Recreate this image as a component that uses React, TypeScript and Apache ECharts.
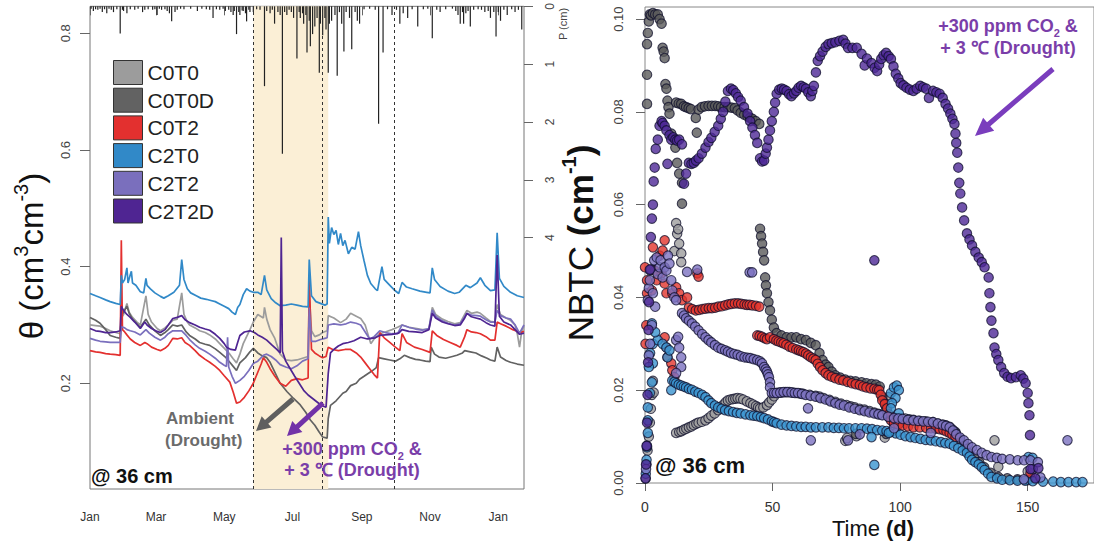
import React, { useEffect, useRef } from "react";
import * as echarts from "echarts";

// ---------- Soil moisture at 36 cm (left panel) ----------
// day of year (0 = Jan 1), volumetric water content θ
const thetaC0T0: number[][] = [[0,.300],[5,.299],[9,.298],[14,.294],[18,.290],[23,.287],[27,.285],[28,.312],[30,.318],[33,.337],[35,.322],[38,.313],[42,.305],[45,.300],[50,.350],[52,.318],[55,.305],[60,.294],[63,.290],[67,.295],[70,.300],[74,.308],[78,.310],[82,.355],[84,.318],[87,.305],[89,.300],[94,.295],[98,.290],[103,.287],[107,.283],[112,.276],[116,.268],[121,.258],[125,.250],[128,.242],[131,.235],[134,.250],[137,.268],[140,.280],[143,.292],[146,.305],[150,.318],[155,.312],[156,.330],[158,.310],[161,.292],[165,.278],[170,.250],[175,.240],[180,.239],[185,.240],[190,.243],[195,.246],[196,.354],[198,.290],[201,.280],[205,.283],[208,.287],[212,.290],[213,.316],[218,.312],[224,.304],[229,.310],[233,.320],[238,.315],[242,.311],[246,.300],[251,.268],[254,.276],[259,.285],[264,.288],[270,.292],[275,.296],[279,.300],[285,.296],[291,.294],[297,.292],[303,.293],[306,.330],[309,.318],[315,.310],[320,.306],[326,.302],[331,.304],[335,.318],[337,.325],[341,.320],[346,.322],[349,.320],[354,.312],[358,.306],[362,.305],[364,.335],[367,.318],[372,.312],[376,.308],[380,.300],[382,.285],[384,.262],[386,.290],[388,.298]];
const thetaC0T0D: number[][] = [[0,.313],[5,.308],[9,.303],[14,.292],[18,.282],[23,.279],[27,.277],[28,.316],[30,.322],[33,.332],[35,.320],[38,.310],[42,.302],[45,.296],[50,.310],[53,.300],[58,.290],[63,.282],[67,.287],[70,.292],[74,.300],[78,.298],[82,.300],[86,.288],[89,.282],[94,.276],[98,.270],[103,.267],[107,.265],[112,.259],[116,.253],[121,.245],[125,.236],[128,.229],[131,.222],[134,.235],[139,.244],[143,.254],[146,.260],[150,.252],[154,.247],[158,.244],[161,.236],[165,.220],[170,.200],[176,.186],[182,.174],[188,.163],[193,.150],[197,.137],[201,.128],[205,.116],[208,.108],[212,.106],[213,.140],[215,.162],[220,.170],[226,.183],[229,.186],[233,.196],[238,.200],[241,.207],[245,.212],[248,.216],[252,.221],[256,.227],[258,.244],[263,.242],[268,.240],[273,.238],[277,.242],[281,.248],[286,.244],[291,.241],[295,.240],[300,.238],[304,.237],[305,.262],[308,.250],[312,.245],[318,.243],[324,.246],[328,.248],[333,.252],[335,.256],[340,.254],[345,.252],[350,.247],[355,.243],[358,.240],[362,.238],[364,.262],[367,.245],[372,.239],[376,.236],[382,.233],[388,.231]];
const thetaC0T2: number[][] = [[0,.256],[5,.254],[9,.253],[14,.251],[18,.250],[23,.249],[27,.248],[28,.445],[29,.292],[31,.288],[33,.283],[36,.276],[40,.270],[45,.265],[49,.270],[51,.268],[55,.262],[60,.258],[63,.256],[67,.260],[70,.265],[74,.277],[78,.276],[82,.278],[85,.270],[89,.265],[94,.256],[98,.248],[103,.241],[107,.236],[112,.229],[116,.222],[120,.213],[125,.202],[128,.185],[131,.166],[134,.168],[138,.176],[142,.187],[146,.200],[150,.219],[153,.233],[155,.244],[158,.236],[161,.225],[165,.213],[170,.200],[175,.195],[180,.205],[185,.208],[190,.206],[195,.209],[196,.380],[198,.258],[201,.252],[205,.247],[208,.244],[211,.246],[213,.262],[217,.258],[222,.256],[228,.258],[233,.258],[238,.252],[242,.245],[246,.235],[250,.225],[254,.215],[257,.209],[259,.287],[263,.278],[268,.270],[273,.262],[277,.256],[279,.285],[283,.270],[290,.262],[297,.258],[304,.253],[306,.290],[310,.282],[316,.275],[322,.270],[328,.265],[331,.262],[335,.280],[337,.292],[341,.288],[345,.287],[349,.285],[354,.280],[358,.274],[362,.274],[364,.305],[367,.302],[372,.298],[378,.292],[385,.287],[388,.289]];
const thetaC2T0: number[][] = [[0,.354],[5,.350],[9,.347],[14,.343],[18,.340],[23,.337],[27,.335],[28,.385],[29,.372],[31,.378],[33,.398],[34,.372],[36,.386],[37,.392],[38,.372],[41,.368],[45,.357],[48,.355],[50,.380],[51,.368],[54,.362],[58,.355],[63,.349],[66,.346],[70,.350],[75,.356],[80,.368],[82,.412],[84,.378],[87,.362],[90,.355],[95,.350],[99,.346],[104,.344],[108,.342],[112,.340],[116,.336],[120,.332],[124,.328],[127,.322],[130,.318],[132,.330],[134,.335],[137,.352],[140,.362],[143,.358],[146,.356],[150,.356],[153,.352],[156,.385],[158,.360],[162,.345],[166,.338],[170,.333],[175,.334],[180,.336],[185,.334],[190,.332],[195,.331],[196,.412],[198,.350],[202,.340],[206,.337],[210,.334],[212,.336],[213,.485],[214,.440],[216,.467],[218,.455],[220,.462],[222,.438],[224,.457],[226,.436],[228,.445],[231,.422],[234,.433],[237,.430],[240,.460],[242,.436],[245,.410],[248,.385],[251,.371],[255,.362],[257,.359],[261,.400],[263,.378],[267,.370],[272,.360],[276,.354],[279,.373],[283,.365],[288,.362],[295,.358],[301,.356],[304,.355],[306,.398],[308,.378],[313,.366],[320,.358],[326,.354],[330,.356],[336,.368],[340,.364],[346,.372],[349,.381],[353,.368],[358,.359],[362,.360],[364,.458],[366,.380],[370,.366],[376,.356],[382,.350],[388,.347]];
const thetaC2T2: number[][] = [[0,.277],[5,.274],[9,.272],[14,.271],[18,.270],[23,.270],[27,.270],[28,.297],[31,.295],[33,.292],[36,.290],[40,.288],[45,.283],[50,.292],[53,.286],[58,.279],[63,.274],[67,.279],[70,.285],[74,.290],[78,.290],[82,.290],[86,.282],[89,.275],[94,.266],[98,.260],[103,.255],[107,.250],[112,.243],[116,.236],[120,.231],[122,.229],[123,.279],[124,.228],[127,.212],[130,.200],[134,.205],[138,.212],[142,.222],[146,.234],[150,.238],[155,.248],[158,.250],[162,.246],[166,.240],[170,.232],[175,.228],[180,.225],[185,.230],[190,.238],[195,.242],[196,.330],[198,.272],[202,.272],[206,.275],[210,.277],[212,.278],[213,.300],[218,.302],[224,.300],[229,.302],[233,.305],[238,.303],[242,.300],[246,.288],[250,.276],[254,.280],[259,.290],[264,.287],[270,.285],[275,.285],[279,.300],[285,.296],[291,.293],[297,.291],[303,.294],[306,.326],[309,.315],[315,.307],[320,.303],[326,.300],[331,.302],[335,.314],[337,.320],[341,.317],[346,.316],[349,.315],[354,.309],[358,.305],[362,.305],[364,.325],[367,.316],[372,.312],[376,.310],[380,.300],[384,.286],[388,.300]];
const thetaC2T2D: number[][] = [[0,.294],[5,.290],[9,.289],[14,.287],[18,.287],[23,.288],[27,.290],[28,.332],[30,.325],[33,.318],[36,.313],[40,.305],[45,.294],[49,.305],[51,.300],[55,.294],[60,.289],[63,.287],[67,.292],[70,.300],[74,.311],[78,.313],[82,.316],[85,.309],[89,.304],[94,.300],[98,.296],[103,.293],[107,.291],[112,.284],[116,.277],[120,.268],[122,.262],[126,.258],[130,.257],[132,.270],[134,.282],[138,.288],[143,.290],[147,.287],[150,.283],[154,.279],[158,.274],[163,.265],[167,.258],[170,.252],[171,.450],[172,.255],[175,.238],[179,.225],[183,.212],[187,.200],[191,.188],[195,.180],[199,.174],[203,.168],[207,.162],[211,.159],[213,.217],[215,.252],[218,.258],[222,.264],[226,.268],[231,.270],[236,.273],[242,.279],[248,.276],[255,.278],[259,.282],[264,.283],[270,.284],[276,.286],[279,.292],[285,.289],[291,.288],[297,.287],[303,.292],[306,.320],[309,.312],[315,.305],[320,.302],[326,.299],[331,.300],[335,.312],[337,.320],[341,.314],[345,.312],[349,.310],[354,.304],[358,.300],[362,.298],[364,.420],[366,.315],[370,.305],[376,.300],[380,.292],[384,.284],[388,.286]];

// Daily precipitation, [day, cm]
const precip: number[][] = [[1,.04],[3,.08],[5,.05],[7,.06],[9,.04],[11,.1],[13,.05],[15,.12],[17,.04],[19,.06],[21,.1],[24,.05],[27,.47],[29,.06],[30,.08],[33,.12],[36,.05],[40,.06],[43,.04],[47,.1],[49,.06],[52,.05],[56,.06],[58,.05],[60,.15],[62,.04],[64,.06],[67,.05],[69,.08],[71,.12],[73,.26],[76,.1],[78,.06],[81,.04],[84,.05],[90,.04],[96,.08],[100,.04],[104,.05],[107,.06],[110,.2],[113,.05],[116,.06],[119,.04],[121,.08],[124,.06],[126,.1],[128,.15],[129,.08],[131,.48],[133,.1],[134,.15],[136,.07],[137,.08],[139,.12],[140,.26],[142,.06],[143,.1],[146,.1],[149,.05],[152,.06],[156,1.38],[158,.08],[161,.12],[163,.06],[165,.3],[168,.1],[170,.15],[172,2.55],[174,.1],[176,.15],[178,.06],[180,.1],[182,.2],[185,.9],[187,.1],[188,.2],[190,.12],[191,.3],[193,.15],[194,.8],[196,.25],[197,.69],[199,.48],[201,.35],[203,.2],[205,1.15],[206,.3],[208,.5],[210,.2],[211,.4],[213,1.15],[214,.3],[216,.25],[219,.15],[221,1.2],[223,.1],[225,.3],[227,.78],[229,.1],[232,.2],[234,.74],[237,.1],[239,.25],[241,.3],[245,.05],[250,.04],[255,.06],[258,2.03],[262,.8],[266,.05],[270,.15],[274,.06],[277,.3],[280,.12],[284,.2],[288,.05],[293,.35],[298,.05],[302,.04],[306,.55],[310,.06],[313,.1],[318,.05],[324,.04],[327,.08],[329,.15],[331,.3],[333,.1],[334,.3],[336,.12],[338,.08],[340,.35],[343,.06],[347,.05],[350,.06],[353,.1],[356,.08],[358,.2],[361,.1],[363,.52],[365,.1],[367,.25],[370,.06],[373,.15],[377,.05],[380,.1],[383,.06],[386,.4]];

// Drought window and reference dates (day of year)
const droughtWindow = [146, 213];
const eventDays = [146, 208, 272];

// Month tick positions and labels
const monthDays = [0, 59, 120, 181, 243, 304, 365];
const monthLabels = ["Jan", "Mar", "May", "Jul", "Sep", "Nov", "Jan"];
const thetaTicks = [0.2, 0.4, 0.6, 0.8];
const precipTicks = [0, 1, 2, 3, 4];

// ---------- NBTC time course (right panel), [time (d), NBTC (cm-1)] ----------
const nbtcC0T0: number[][] = [[0.3,.001],[0.6,.004],[1.0,.007],[1.5,.010],[1.9,.013],[2.3,.016],[2.7,.019],[3.1,.022],[3.4,.0195],[2.0,.0458],[3.0,.046],[11.5,.05],[12.2,.056],[12.6,.0537],[13.0,.0547],[13.4,.0516],[14.2,.0495],[14.2,.0476],[12.2,.0108],[13.4,.011],[14.3,.0112],[15.3,.0115],[16.2,.0117],[17.2,.012],[18.2,.0122],[19.1,.0125],[20.1,.0128],[21.0,.013],[22.3,.0132],[23.7,.0135],[24.9,.014],[26.0,.0145],[27.3,.015],[28.7,.0157],[29.6,.0162],[30.6,.0168],[31.6,.0174],[32.5,.0178],[33.5,.018],[34.5,.0181],[35.4,.0182],[36.3,.0183],[37.4,.0182],[38.5,.018],[39.9,.0176],[41.3,.0172],[42.4,.0169],[43.5,.0166],[44.3,.0163],[45.1,.0161],[46.4,.0163],[47.8,.0168],[48.7,.0174],[49.7,.018],[50.6,.0187],[51.6,.0194],[52.6,.0195],[53.6,.0195],[55.1,.0196],[56.6,.0196],[58.0,.0195],[59.3,.0194],[60.7,.0193],[62.0,.0192],[64.5,.019],[66.9,.0188],[68.4,.0186],[70.0,.0183],[72.3,.0179],[74.6,.0175],[76.8,.0171],[79.0,.0168],[80.6,.0165],[82.2,.0163],[84.1,.016],[86.0,.0158],[88.0,.0155],[89.9,.0152],[91.5,.0149],[93.0,.0147],[95.3,.0144],[97.6,.0141],[99.8,.014],[102.0,.0139],[103.6,.0137],[105.2,.0136],[107.6,.0134],[110.0,.0133],[112.9,.0131],[114.8,.0128],[116.7,.0126],[118.0,.0124],[119.4,.0121],[120.5,.0115],[121.7,.011],[78.5,.0091],[82.9,.0101],[94.0,.0098],[137.0,.0092],[79.2,.0097],[95.5,.0185],[138.5,.0035],[150,.0025]];
const nbtcC0T0D: number[][] = [[0.8,.0817],[0.8,.088],[0.8,.0946],[1.1,.097],[1.5,.0995],[1.9,.101],[2.3,.1008],[3.1,.1013],[4.0,.101],[5.0,.101],[5.7,.100],[6.5,.099],[6.9,.0938],[7.3,.093],[7.7,.0916],[8.0,.086],[8.4,.085],[8.8,.0824],[9.2,.081],[9.6,.0796],[10.3,.0753],[11.9,.0723],[12.6,.069],[13.4,.0667],[14.5,.0647],[14.5,.0602],[12.2,.082],[13.2,.0818],[14.2,.0817],[15.2,.0812],[16.1,.081],[17.1,.0808],[18.0,.0806],[19.9,.0787],[20.3,.0755],[21.0,.0805],[22.2,.081],[23.5,.0812],[24.9,.0813],[26.2,.0813],[27.5,.0813],[28.7,.0812],[29.8,.081],[31.2,.081],[32.5,.081],[33.9,.0809],[35.2,.0808],[36.3,.0803],[37.5,.0798],[38.9,.0794],[40.2,.079],[41.2,.0787],[42.1,.0785],[43.4,.078],[44.8,.0774],[45.1,.0548],[45.5,.0532],[45.9,.0516],[46.3,.0498],[46.7,.048],[47.1,.0443],[47.4,.0426],[47.8,.0409],[48.4,.039],[49.0,.0372],[49.7,.0352],[50.5,.0335],[51.6,.0323],[53.5,.0318],[55.5,.0314],[57.4,.0314],[59.3,.0314],[61.2,.031],[63.1,.0308],[65.0,.0302],[66.9,.0297],[68.4,.028],[69.6,.0265],[70.8,.0255],[71.9,.025],[73.2,.024],[74.6,.0232],[76.5,.0227],[78.5,.0223],[80.5,.022],[82.5,.0219],[84.9,.0217],[86.8,.0215],[88.8,.0213],[90.5,.0212],[92.0,.0208],[93.0,.0185],[94.0,.0172],[94.5,.0163],[95.6,.0142],[97.6,.0129],[99.5,.0128],[121.7,.0108],[123.5,.0094],[125.5,.008],[127,.0065],[129,.0055],[131,.0045],[133,.0034],[135.5,.0022],[138.5,.0013],[142,.001],[146,.0008],[150,.0006],[82.6,.0106],[94.5,.0106]];
const nbtcC0T2: number[][] = [[0.2,.030],[0.5,.034],[0.8,.0409],[0.8,.0437],[0.0,.0465],[2.7,.0415],[3.1,.0508],[3.8,.0458],[4.6,.0437],[5.7,.049],[6.5,.0452],[6.9,.0501],[7.7,.0523],[7.7,.043],[8.4,.0409],[10.7,.0409],[12.2,.0422],[13.4,.0409],[14.5,.0394],[16.5,.040],[7.7,.0314],[8.4,.0292],[8.8,.0271],[10.3,.0258],[10.7,.0243],[11.5,.0228],[20.5,.0452],[21.0,.0445],[17.2,.0378],[18.5,.0375],[19.9,.0372],[21.2,.0373],[22.5,.0375],[23.7,.0376],[25.0,.0377],[26.2,.0377],[27.5,.0378],[28.8,.038],[30.1,.0381],[31.4,.0383],[32.7,.0385],[33.9,.0386],[35.2,.0387],[36.5,.0387],[37.7,.0386],[39.0,.0385],[40.0,.0384],[41.0,.0384],[42.1,.0383],[43.5,.0382],[44.8,.038],[44.0,.0318],[44.9,.0317],[45.9,.0315],[46.9,.0312],[47.8,.031],[49.0,.0314],[50.5,.031],[51.5,.0307],[52.4,.0305],[53.4,.0303],[54.3,.0301],[55.4,.0298],[56.6,.0294],[57.9,.0291],[59.3,.0288],[60.3,.0286],[61.2,.0284],[62.1,.0282],[63.1,.0279],[64.0,.0275],[65.0,.0271],[66.0,.0268],[66.9,.0265],[67.7,.0257],[68.6,.025],[69.6,.0243],[70.8,.0237],[71.9,.0232],[73.2,.0229],[74.6,.0226],[76.2,.0223],[77.7,.0221],[79.4,.0218],[81.1,.0215],[82.6,.0213],[84.2,.0211],[85.5,.0208],[86.8,.0206],[88.4,.0204],[89.9,.0203],[91.0,.0201],[91.8,.02],[92.4,.019],[93.0,.0178],[94.0,.017],[94.9,.0161],[95.6,.0148],[96.4,.0135],[97.6,.0129],[99.3,.0126],[101.0,.0124],[103.1,.0122],[105.2,.012],[107.7,.012],[110.2,.0119],[112.1,.0118],[114.0,.0117],[115.5,.0116],[117.0,.0114],[118.2,.0111],[119.4,.0108],[120.5,.0104],[121.7,.0099],[151.1,.0021]];
const nbtcC2T0: number[][] = [[0.3,.002],[0.6,.005],[0.8,.0077],[1.1,.0108],[1.1,.0135],[1.1,.0163],[1.9,.0194],[2.7,.0217],[3.1,.0258],[2.7,.0344],[3.1,.030],[5.0,.0308],[6.9,.030],[8.4,.0292],[8.8,.0271],[9.6,.0286],[10.3,.020],[1.5,.025],[2.0,.028],[4.0,.0325],[10.7,.0221],[11.5,.0218],[12.2,.0215],[13.2,.0212],[14.2,.021],[15.2,.0208],[16.1,.0206],[17.2,.0203],[18.4,.0201],[19.7,.0197],[21.0,.0194],[22.4,.019],[23.7,.0185],[24.9,.0178],[26.0,.0172],[27.4,.0167],[28.7,.0163],[30.0,.016],[31.4,.0157],[32.9,.0155],[34.5,.0153],[36.0,.0151],[37.5,.015],[39.4,.0148],[41.3,.0146],[42.6,.0145],[44.0,.0144],[45.4,.0142],[46.7,.014],[48.2,.0137],[49.7,.0133],[50.6,.0131],[51.6,.0129],[53.5,.0126],[55.5,.0124],[57.4,.0123],[59.3,.0122],[61.2,.0121],[63.0,.0121],[65.0,.012],[67.0,.012],[69.5,.012],[71.9,.012],[74.0,.0119],[76.0,.0119],[78.0,.0118],[80.0,.0118],[82.5,.0118],[84.9,.0118],[87.0,.0117],[89.0,.0116],[91.0,.0114],[93.0,.0113],[94.7,.0112],[96.4,.011],[98.3,.0107],[100.2,.0104],[102.1,.0101],[104.1,.0099],[106.0,.0097],[108.0,.0095],[110.0,.0093],[112.0,.0092],[114.0,.009],[116.0,.0088],[117.7,.0086],[119.4,.0085],[121.1,.008],[122.8,.0075],[124.5,.007],[126.2,.0065],[127.2,.0057],[128.2,.005],[129.5,.0045],[130.8,.004],[132.0,.0034],[133.1,.0028],[134.5,.002],[135.8,.0013],[138.0,.001],[140.0,.0007],[143.0,.0006],[146.0,.0005],[149.0,.0005],[152.0,.0004],[156.0,.0003],[160.0,.0003],[163.0,.0002],[166.0,.0002],[169.0,.0002],[171.5,.0002],[96.4,.0194],[97.6,.0206],[98.7,.021],[99.5,.020],[98.2,.0183],[96.8,.0172],[96.4,.0161],[99.5,.015],[89.9,.0039],[88.8,.0099],[95.6,.0108],[150.3,.0056],[151.9,.0054]];
const nbtcC2T2: number[][] = [[0.4,.003],[0.8,.008],[1.1,.0394],[1.5,.042],[1.9,.0437],[2.3,.046],[3.1,.0409],[3.6,.048],[4.6,.0486],[5.0,.045],[5.7,.0465],[6.1,.048],[6.9,.0443],[7.7,.0465],[8.4,.0458],[9.0,.049],[9.6,.0473],[10.3,.0437],[10.7,.0415],[11.5,.040],[12.2,.0394],[12.2,.0308],[13.4,.0292],[14.2,.0271],[14.2,.025],[12.2,.0237],[13.0,.0315],[4.0,.038],[2.7,.034],[2.0,.030],[1.5,.0275],[16.5,.0455],[20.5,.046],[41,.0454],[42,.0454],[14.5,.0366],[15.3,.0361],[16.1,.0355],[17.2,.035],[18.4,.0344],[19.7,.0337],[21.0,.0329],[22.4,.0321],[23.7,.0314],[24.9,.0308],[26.0,.0303],[27.4,.0297],[28.7,.0292],[30.0,.0289],[31.4,.0286],[32.5,.0283],[33.7,.028],[35.0,.0278],[36.3,.0276],[37.6,.0273],[39.0,.0271],[40.2,.027],[41.3,.0269],[42.6,.0267],[44.0,.0265],[45.1,.0262],[45.9,.0258],[46.7,.025],[47.3,.0245],[47.8,.024],[48.2,.0234],[48.6,.0228],[49.0,.0217],[49.0,.0206],[49.7,.0194],[50.6,.0194],[51.6,.0194],[53.0,.0195],[54.3,.0196],[55.8,.0196],[57.4,.0195],[58.7,.0194],[60.0,.0194],[61.5,.0192],[63.0,.019],[64.9,.0188],[66.9,.0186],[68.8,.0183],[70.8,.018],[72.7,.0176],[74.6,.0172],[76.3,.0169],[78.0,.0167],[80.1,.0163],[82.2,.016],[84.2,.0157],[86.1,.0155],[88.0,.0152],[89.9,.015],[91.5,.0148],[93.0,.0146],[95.3,.0143],[97.6,.014],[99.3,.0139],[101.0,.0138],[103.1,.0136],[105.2,.0135],[107.1,.0134],[109.0,.0133],[111.0,.0132],[112.9,.0131],[114.8,.0128],[116.7,.0125],[118.0,.0123],[119.4,.012],[120.7,.0113],[122.0,.0105],[123.5,.0098],[125.0,.0092],[126.6,.0084],[128.2,.0077],[130.1,.0071],[132.0,.0065],[133.9,.006],[135.8,.0056],[137.9,.0054],[140.0,.0052],[143.0,.0051],[146.1,.0049],[148.6,.0049],[151.1,.0049],[63.9,.0161],[65.0,.0092],[79.6,.0092],[84.2,.0105],[97.6,.0118],[112.0,.0108],[165.6,.0092],[152,.003],[154,.0045],[155,.0012],[148.5,.0008]];
const nbtcC2T2D: number[][] = [[0.2,.001],[0.4,.004],[0.6,.008],[0.8,.013],[1.0,.019],[1.2,.026],[1.4,.033],[1.6,.039],[1.9,.046],[2.3,.053],[2.7,.057],[3.1,.060],[3.4,.065],[3.8,.068],[4.2,.072],[5.0,.074],[5.7,.077],[6.5,.078],[6.9,.0776],[7.7,.077],[8.4,.076],[8.8,.0688],[9.6,.075],[10.3,.074],[11.1,.0745],[11.9,.074],[12.6,.0738],[13.4,.074],[14.5,.073],[15.3,.0645],[16.1,.0667],[17.2,.069],[18.2,.0688],[19.1,.069],[20.0,.0695],[21.0,.070],[22.3,.071],[23.7,.0723],[24.9,.0735],[26.0,.0744],[27.3,.0757],[28.7,.077],[29.7,.0785],[30.6,.080],[31.5,.0822],[32.5,.0845],[33.7,.085],[34.6,.0847],[35.6,.084],[36.5,.0832],[37.5,.0824],[38.8,.081],[40.2,.0796],[41.2,.078],[42.1,.0766],[43.1,.075],[44.0,.0733],[45.1,.070],[45.9,.0693],[46.7,.0695],[47.3,.071],[47.8,.0723],[48.4,.074],[49.0,.076],[49.7,.078],[50.5,.080],[51.0,.082],[51.6,.0839],[52.6,.0848],[53.6,.085],[54.5,.0848],[55.5,.0845],[56.5,.0838],[57.4,.0834],[58.4,.084],[59.3,.0845],[60.2,.0852],[61.2,.0856],[62.2,.0853],[63.1,.085],[64.0,.0842],[65.0,.0834],[65.6,.0845],[66.2,.0856],[67.0,.0885],[67.7,.091],[68.6,.092],[69.6,.093],[70.8,.094],[71.9,.0946],[73.2,.0948],[74.6,.095],[76.2,.0953],[77.7,.0955],[78.6,.0947],[79.6,.0938],[81.3,.0938],[83.0,.0938],[84.9,.0925],[86.1,.090],[87.0,.0915],[88.8,.0905],[90.0,.0895],[91.0,.0888],[91.8,.0902],[92.6,.0914],[93.5,.0922],[94.5,.0927],[95.5,.092],[96.4,.0914],[97.4,.0898],[98.3,.0882],[99.3,.0872],[100.2,.0862],[101.3,.0857],[102.5,.0852],[103.8,.0848],[105.2,.0845],[106.5,.085],[107.9,.0856],[109,.0853],[110.2,.085],[111.3,.083],[112.9,.0845],[114.2,.0842],[115.5,.0839],[116.7,.083],[117.8,.0817],[118.8,.0807],[119.7,.0796],[120.5,.0785],[121.3,.0774],[121.7,.0753],[122.0,.0733],[122.4,.0712],[122.8,.068],[123.2,.0647],[123.6,.0624],[124.3,.0594],[125.1,.0566],[126.2,.0538],[127.2,.0525],[128.2,.0512],[129.5,.0498],[130.8,.0486],[132,.0476],[133.1,.0465],[134.7,.0443],[135.0,.0409],[135.4,.0379],[135.8,.035],[136.6,.0323],[137.0,.0292],[137.7,.0278],[138.5,.0265],[139.6,.025],[140.8,.0237],[142.1,.0229],[143.5,.0226],[145.4,.0228],[147.3,.0232],[148.3,.0225],[149.2,.0215],[150.0,.0194],[150.3,.0172],[150.7,.0146],[150.9,.0103],[151.1,.003],[154.2,.0032],[153.0,.001],[89.9,.048]];

const timeTicks = [0, 50, 100, 150];
const nbtcTicks = [0, 0.02, 0.04, 0.06, 0.08, 0.1];

const treatments = ["C0T0", "C0T0D", "C0T2", "C2T0", "C2T2", "C2T2D"];
const lineColors = ["#9c9c9c", "#626262", "#e3302f", "#3189c8", "#7a6fbd", "#4f2592"];
const dotColors = ["#9e9e9e", "#5a5a5a", "#e2352c", "#3a93cf", "#7c72c0", "#4e2896"];
const thetaSeries = [thetaC0T0, thetaC0T0D, thetaC0T2, thetaC2T0, thetaC2T2, thetaC2T2D];
const nbtcSeries = [nbtcC0T0, nbtcC0T0D, nbtcC0T2, nbtcC2T0, nbtcC2T2, nbtcC2T2D];

const FONT = "'Liberation Sans', Arial, Helvetica, sans-serif";

// Polygon outline of a thick arrow from (x1,y1) to the tip (x2,y2)
function arrowShape(x1: number, y1: number, x2: number, y2: number, w: number, hl: number, hw: number) {
  const dx = x2 - x1, dy = y2 - y1;
  const L = Math.hypot(dx, dy);
  const ux = dx / L, uy = dy / L;
  const nx = -uy, ny = ux;
  const bx = x2 - ux * hl, by = y2 - uy * hl;
  return [
    [x1 + (nx * w) / 2, y1 + (ny * w) / 2],
    [bx + (nx * w) / 2, by + (ny * w) / 2],
    [bx + (nx * hw) / 2, by + (ny * hw) / 2],
    [x2, y2],
    [bx - (nx * hw) / 2, by - (ny * hw) / 2],
    [bx - (nx * w) / 2, by - (ny * w) / 2],
    [x1 - (nx * w) / 2, y1 - (ny * w) / 2],
  ];
}

export default function App() {
  const ref = useRef<HTMLDivElement>(null);

  useEffect(() => {
    if (!ref.current) return;
    const chart = echarts.init(ref.current, null, { renderer: "svg" });

    const purple = "#7a3ea9";
    const tickStyle = { color: "#666", width: 1 };

    const lineSeries = treatments.map((name, i) => ({
      name,
      type: "line",
      xAxisIndex: 0,
      yAxisIndex: 0,
      data: thetaSeries[i],
      showSymbol: false,
      symbol: "none",
      color: lineColors[i],
      lineStyle: { color: lineColors[i], width: 1.7 },
      z: 4,
    }));

    const dotSeries = treatments.map((name, i) => ({
      name,
      type: "scatter",
      xAxisIndex: 1,
      yAxisIndex: 2,
      data: nbtcSeries[i],
      symbol: "circle",
      symbolSize: 9.5,
      itemStyle: {
        color: dotColors[i],
        borderColor: "rgba(14,14,42,0.92)",
        borderWidth: 1.1,
      },
      z: 4,
    }));

    const option: any = {
      animation: false,
      backgroundColor: "#ffffff",
      textStyle: { fontFamily: FONT },
      legend: {
        data: treatments,
        orient: "vertical",
        left: 113,
        top: 60,
        padding: 0,
        icon: "rect",
        itemWidth: 29,
        itemHeight: 24,
        itemGap: 2.7,
        selectedMode: false,
        itemStyle: { borderColor: "#333", borderWidth: 1 },
        textStyle: { fontSize: 21, color: "#222", fontFamily: FONT, lineHeight: 24 },
      },
      grid: [
        { left: 90, top: 5, width: 434, height: 484, show: true, borderColor: "#777", borderWidth: 1, backgroundColor: "transparent", containLabel: false },
        { left: 645, top: 7, width: 460, height: 476, show: true, borderColor: "#888", borderWidth: 1, backgroundColor: "transparent", containLabel: false },
      ],
      xAxis: [
        {
          type: "value",
          gridIndex: 0,
          min: 0,
          max: 388,
          axisLine: { show: false },
          splitLine: { show: false },
          axisTick: { show: true, customValues: monthDays, length: 9, lineStyle: tickStyle },
          axisLabel: {
            customValues: monthDays,
            formatter: (v: number) => monthLabels[monthDays.indexOf(Math.round(v))] ?? "",
            margin: 22,
            fontSize: 12,
            color: "#333",
            fontFamily: FONT,
          },
        },
        {
          type: "value",
          gridIndex: 1,
          min: 0,
          max: 176,
          axisLine: { show: false },
          splitLine: { show: false },
          axisTick: { show: true, customValues: timeTicks, length: 8, lineStyle: tickStyle },
          axisLabel: { customValues: timeTicks, margin: 17, fontSize: 14, color: "#333", fontFamily: FONT },
        },
      ],
      yAxis: [
        {
          type: "value",
          gridIndex: 0,
          min: 0.0188,
          max: 0.8462,
          axisLine: { show: false },
          splitLine: { show: false },
          axisTick: { show: true, customValues: thetaTicks, length: 10, lineStyle: tickStyle },
          axisLabel: {
            customValues: thetaTicks,
            rotate: 90,
            margin: 18,
            fontSize: 13,
            color: "#444",
            fontFamily: FONT,
            formatter: (v: number) => v.toFixed(1),
          },
        },
        {
          type: "value",
          gridIndex: 0,
          position: "right",
          inverse: true,
          min: 0,
          max: 8.345,
          axisLine: { show: false },
          splitLine: { show: false },
          axisTick: { show: true, customValues: precipTicks, length: 9, lineStyle: tickStyle },
          axisLabel: {
            customValues: precipTicks,
            rotate: 90,
            margin: 20,
            fontSize: 12,
            color: "#444",
            fontFamily: FONT,
          },
        },
        {
          type: "value",
          gridIndex: 1,
          min: 0,
          max: 0.1026,
          axisLine: { show: false },
          splitLine: { show: false },
          axisTick: { show: true, customValues: nbtcTicks, length: 9, lineStyle: tickStyle },
          axisLabel: {
            customValues: nbtcTicks,
            rotate: 90,
            margin: 20,
            fontSize: 13,
            color: "#444",
            fontFamily: FONT,
            formatter: (v: number) => v.toFixed(2),
          },
        },
      ],
      series: [
        {
          type: "line",
          xAxisIndex: 0,
          yAxisIndex: 0,
          data: [],
          z: 1,
          markArea: {
            silent: true,
            itemStyle: { color: "#fbefd6" },
            data: [[{ xAxis: droughtWindow[0] }, { xAxis: droughtWindow[1] }]],
          },
          markLine: {
            silent: true,
            symbol: ["none", "none"],
            label: { show: false },
            lineStyle: { color: "#333", type: [3, 3], width: 1 },
            data: eventDays.map((d) => ({ xAxis: d })),
          },
        },
        {
          type: "bar",
          xAxisIndex: 0,
          yAxisIndex: 1,
          data: precip,
          barWidth: 1.2,
          itemStyle: { color: "#222" },
          z: 3,
        },
        ...lineSeries,
        ...dotSeries,
      ],
      graphic: [
        // axis titles
        {
          type: "text",
          x: 31,
          y: 256,
          rotation: Math.PI / 2,
          z: 100,
          style: {
            text: "{b|θ (cm}{s|3}{b|cm}{s|-3}{b|)}",
            align: "center",
            verticalAlign: "middle",
            rich: {
              b: { fontSize: 33, fontFamily: FONT, fill: "#111", lineHeight: 40 },
              s: { fontSize: 20, fontFamily: FONT, fill: "#111", verticalAlign: "top" },
            },
          },
        },
        {
          type: "text",
          x: 580,
          y: 243,
          rotation: Math.PI / 2,
          z: 100,
          style: {
            text: "{n|NBTC }{b|(cm}{s|-1}{b|)}",
            align: "center",
            verticalAlign: "middle",
            rich: {
              n: { fontSize: 35, fontFamily: FONT, fill: "#111", lineHeight: 42 },
              b: { fontSize: 35, fontFamily: FONT, fontWeight: "bold", fill: "#111", lineHeight: 42 },
              s: { fontSize: 20, fontFamily: FONT, fontWeight: "bold", fill: "#111", verticalAlign: "top" },
            },
          },
        },
        {
          type: "text",
          x: 563,
          y: 24,
          rotation: Math.PI / 2,
          z: 100,
          style: { text: "P (cm)", align: "center", verticalAlign: "middle", fontSize: 11, fontFamily: FONT, fill: "#444" },
        },
        {
          type: "text",
          x: 873,
          y: 528,
          z: 100,
          style: {
            text: "{n|Time }{b|(d)}",
            align: "center",
            verticalAlign: "middle",
            rich: {
              n: { fontSize: 22, fontFamily: FONT, fill: "#111" },
              b: { fontSize: 22, fontFamily: FONT, fontWeight: "bold", fill: "#111" },
            },
          },
        },
        // depth labels
        {
          type: "text",
          x: 91,
          y: 476,
          z: 100,
          style: { text: "@ 36 cm", align: "left", verticalAlign: "middle", fontSize: 20, fontWeight: "bold", fontFamily: FONT, fill: "#111" },
        },
        {
          type: "text",
          x: 655,
          y: 465,
          z: 100,
          style: { text: "@ 36 cm", align: "left", verticalAlign: "middle", fontSize: 22, fontWeight: "bold", fontFamily: FONT, fill: "#111" },
        },
        // ambient drought annotation
        {
          type: "text",
          x: 166,
          y: 418,
          z: 100,
          style: { text: "Ambient", align: "left", verticalAlign: "middle", fontSize: 17, fontWeight: "bold", fontFamily: FONT, fill: "#6b6b6b" },
        },
        {
          type: "text",
          x: 165,
          y: 440,
          z: 100,
          style: { text: "(Drought)", align: "left", verticalAlign: "middle", fontSize: 17, fontWeight: "bold", fontFamily: FONT, fill: "#6b6b6b" },
        },
        {
          type: "polygon",
          z: 100,
          shape: { points: arrowShape(293, 399, 256, 431, 5, 14, 15) },
          style: { fill: "#5f5f5f" },
        },
        // warming + CO2 drought annotation (left)
        {
          type: "text",
          x: 352,
          y: 449,
          z: 100,
          style: {
            text: "{a|+300 ppm CO}{s|2}{a| &}",
            align: "center",
            verticalAlign: "middle",
            rich: {
              a: { fontSize: 18, fontWeight: "bold", fontFamily: FONT, fill: purple, lineHeight: 24 },
              s: { fontSize: 11, fontWeight: "bold", fontFamily: FONT, fill: purple, verticalAlign: "bottom" },
            },
          },
        },
        {
          type: "text",
          x: 352,
          y: 470,
          z: 100,
          style: { text: "+ 3 ℃ (Drought)", align: "center", verticalAlign: "middle", fontSize: 18, fontWeight: "bold", fontFamily: FONT, fill: purple },
        },
        {
          type: "polygon",
          z: 100,
          shape: { points: arrowShape(323, 403, 287, 436, 5, 14, 15) },
          style: { fill: "#7232a8" },
        },
        // warming + CO2 drought annotation (right)
        {
          type: "text",
          x: 1008,
          y: 26,
          z: 100,
          style: {
            text: "{a|+300 ppm CO}{s|2}{a| &}",
            align: "center",
            verticalAlign: "middle",
            rich: {
              a: { fontSize: 18, fontWeight: "bold", fontFamily: FONT, fill: purple, lineHeight: 24 },
              s: { fontSize: 11, fontWeight: "bold", fontFamily: FONT, fill: purple, verticalAlign: "bottom" },
            },
          },
        },
        {
          type: "text",
          x: 1008,
          y: 48,
          z: 100,
          style: { text: "+ 3 ℃ (Drought)", align: "center", verticalAlign: "middle", fontSize: 18, fontWeight: "bold", fontFamily: FONT, fill: purple },
        },
        {
          type: "polygon",
          z: 100,
          shape: { points: arrowShape(1053, 69, 975, 136, 5, 18, 17) },
          style: { fill: "#7a3dbd" },
        },
      ],
    };

    chart.setOption(option);
    return () => chart.dispose();
  }, []);

  return (
    <div
      ref={ref}
      style={{ position: "absolute", left: 0, top: 0, width: 1094, height: 544, background: "#fff" }}
    />
  );
}
